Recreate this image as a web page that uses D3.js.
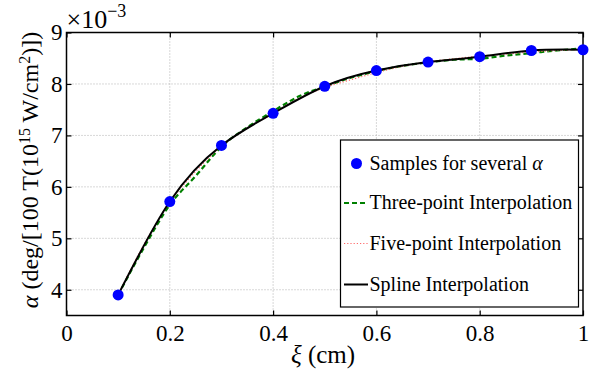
<!DOCTYPE html>
<html>
<head>
<meta charset="utf-8">
<script src="https://cdn.jsdelivr.net/npm/d3@7"></script>
<style>
  body { margin: 0; background: #fff; }
</style>
</head>
<body>
<div id="chart"></div>
<script>
// sample points (alpha in units of 1e-3)
const sampleX = [0.1, 0.2, 0.3, 0.4, 0.5, 0.6, 0.7, 0.8, 0.9, 1.0];
const sampleY = [3.90, 5.715, 6.805, 7.43, 7.955, 8.26, 8.425, 8.53, 8.65, 8.665];

// interpolation curves
const curveX = [0.1, 0.15, 0.2, 0.25, 0.3, 0.35, 0.4, 0.45, 0.5, 0.55, 0.6, 0.65, 0.7, 0.75, 0.8, 0.85, 0.9, 0.95, 1.0];
const threePoint = [3.90, 4.82, 5.65, 6.21, 6.78, 7.16, 7.47, 7.76, 7.95, 8.12, 8.25, 8.35, 8.42, 8.47, 8.49, 8.55, 8.60, 8.65, 8.69];
const fivePoint = [3.91, 4.88, 5.70, 6.30, 6.79, 7.14, 7.43, 7.72, 7.93, 8.08, 8.22, 8.34, 8.43, 8.49, 8.54, 8.58, 8.62, 8.65, 8.67];

const xTicks = [0, 0.2, 0.4, 0.6, 0.8, 1];
const yTicks = [4, 5, 6, 7, 8, 9];
const legendLabels = ["Samples for several ", "Three-point Interpolation", "Five-point Interpolation", "Spline Interpolation"];

const width = 593, height = 373;
const margin = {top: 32.5, right: 10, bottom: 57.5, left: 66.5};
const serif = "Liberation Serif";

const svg = d3.select("#chart")
  .append("svg")
  .attr("width", width)
  .attr("height", height)
  .attr("font-family", serif);

const x = d3.scaleLinear().domain([0, 1]).range([margin.left, width - margin.right]);
const y = d3.scaleLinear().domain([3.5, 9]).range([height - margin.bottom, margin.top]);

// dotted grid
svg.append("g")
  .selectAll("line")
  .data(xTicks.slice(1, -1))
  .join("line")
  .attr("x1", d => x(d)).attr("x2", d => x(d))
  .attr("y1", y(3.5)).attr("y2", y(9))
  .attr("stroke", "#b0b0b0").attr("stroke-width", 1).attr("stroke-dasharray", "1,2");
svg.append("g")
  .selectAll("line")
  .data(yTicks.slice(0, -1))
  .join("line")
  .attr("x1", x(0)).attr("x2", x(1))
  .attr("y1", d => y(d)).attr("y2", d => y(d))
  .attr("stroke", "#b0b0b0").attr("stroke-width", 1).attr("stroke-dasharray", "1,2");

// axes with inward ticks
const axisStyle = g => {
  g.attr("font-family", serif).attr("font-size", 23);
  g.select(".domain").remove();
  g.selectAll(".tick line").attr("stroke", "#000").attr("stroke-width", 1.2);
  g.selectAll("text").attr("fill", "#000");
};
svg.append("g")
  .attr("transform", `translate(0,${y(3.5)})`)
  .call(d3.axisBottom(x).tickValues(xTicks).tickFormat(d3.format("")).tickSizeInner(-5).tickPadding(9))
  .call(axisStyle);
svg.append("g")
  .attr("transform", `translate(0,${y(9)})`)
  .call(d3.axisTop(x).tickValues(xTicks).tickFormat("").tickSizeInner(-5))
  .call(axisStyle);
svg.append("g")
  .attr("transform", `translate(${x(0)},0)`)
  .call(d3.axisLeft(y).tickValues(yTicks).tickFormat(d3.format("d")).tickSizeInner(-5).tickPadding(4))
  .call(axisStyle);
svg.append("g")
  .attr("transform", `translate(${x(1)},0)`)
  .call(d3.axisRight(y).tickValues(yTicks).tickFormat("").tickSizeInner(-5))
  .call(axisStyle);

// frame
svg.append("rect")
  .attr("x", x(0)).attr("y", y(9))
  .attr("width", x(1) - x(0)).attr("height", y(3.5) - y(9))
  .attr("fill", "none").attr("stroke", "#000").attr("stroke-width", 1.5);

// curves
const lineFrom = (xs, ys, curve) => d3.line()
  .x((d, i) => x(xs[i]))
  .y(d => y(d))
  .curve(curve)(ys);

svg.append("path")
  .attr("d", lineFrom(curveX, threePoint, d3.curveMonotoneX))
  .attr("fill", "none").attr("stroke", "#008000").attr("stroke-width", 2.2)
  .attr("stroke-dasharray", "5,3");
svg.append("path")
  .attr("d", lineFrom(curveX, fivePoint, d3.curveMonotoneX))
  .attr("fill", "none").attr("stroke", "#ff6a6a").attr("stroke-width", 1.2)
  .attr("stroke-dasharray", "1.2,2");
svg.append("path")
  .attr("d", lineFrom(sampleX, sampleY, d3.curveNatural))
  .attr("fill", "none").attr("stroke", "#000").attr("stroke-width", 2);

svg.append("g")
  .selectAll("circle")
  .data(sampleY)
  .join("circle")
  .attr("cx", (d, i) => x(sampleX[i]))
  .attr("cy", d => y(d))
  .attr("r", 5.5)
  .attr("fill", "#0000ff");

// exponent label
const expo = svg.append("text")
  .attr("x", x(0)).attr("y", 28)
  .attr("font-size", 26);
expo.append("tspan").text("×10");
expo.append("tspan").attr("dy", -11).attr("font-size", 18).text("−3");

// axis titles
const xt = svg.append("text")
  .attr("x", 323).attr("y", 363)
  .attr("text-anchor", "middle")
  .attr("font-size", 25);
xt.append("tspan").attr("font-style", "italic").text("ξ");
xt.append("tspan").text(" (cm)");

const yt = svg.append("text")
  .attr("transform", "translate(38,170) rotate(-90)")
  .attr("text-anchor", "middle")
  .attr("font-size", 24);
yt.append("tspan").attr("font-style", "italic").text("α");
yt.append("tspan").text(" (deg/[100 T(10");
yt.append("tspan").attr("dy", -8).attr("font-size", 16).text("15");
yt.append("tspan").attr("dy", 8).text(" W/cm");
yt.append("tspan").attr("dy", -8).attr("font-size", 16).text("2");
yt.append("tspan").attr("dy", 8).text(")])");

// legend
const lg = svg.append("g");
lg.append("rect")
  .attr("x", 340.5).attr("y", 140)
  .attr("width", 238).attr("height", 167)
  .attr("fill", "#fff").attr("stroke", "#000").attr("stroke-width", 1.2);
const rowY = [163.5, 203, 243.5, 284.5];
const lx1 = 344, lx2 = 368, tx = 369.5;
lg.append("circle").attr("cx", 356.5).attr("cy", rowY[0]).attr("r", 5.5).attr("fill", "#0000ff");
lg.append("line").attr("x1", lx1).attr("x2", lx2).attr("y1", rowY[1]).attr("y2", rowY[1])
  .attr("stroke", "#008000").attr("stroke-width", 2.2).attr("stroke-dasharray", "5,3");
lg.append("line").attr("x1", lx1).attr("x2", lx2).attr("y1", rowY[2]).attr("y2", rowY[2])
  .attr("stroke", "#ff6a6a").attr("stroke-width", 1.2).attr("stroke-dasharray", "1.2,2");
lg.append("line").attr("x1", lx1).attr("x2", lx2).attr("y1", rowY[3]).attr("y2", rowY[3])
  .attr("stroke", "#000").attr("stroke-width", 2);
legendLabels.forEach((t, i) => {
  const txt = lg.append("text")
    .attr("x", tx).attr("y", rowY[i] + 6)
    .attr("font-size", 20)
    .text(t);
  if (i === 0) txt.append("tspan").attr("font-style", "italic").text("α");
});
</script>
</body>
</html>
